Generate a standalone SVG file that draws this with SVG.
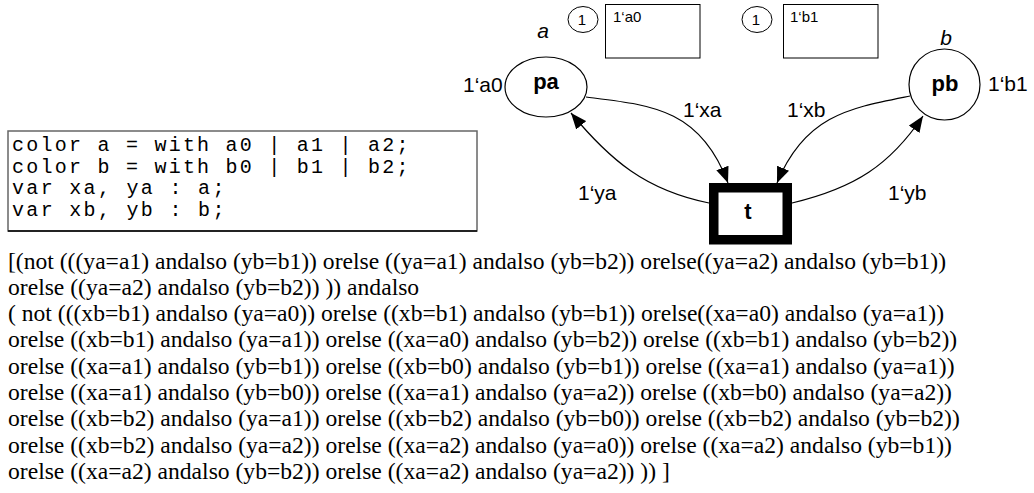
<svg xmlns="http://www.w3.org/2000/svg" width="1034" height="493" viewBox="0 0 1034 493">
  <style>
    .place { fill: #fff; stroke: #000; stroke-width: 1.2; }
    .trans { fill: #fff; stroke: #000; stroke-width: 9.5; }
    .arc { fill: none; stroke: #000; stroke-width: 1.2; }
    .lbl { font-family: "Liberation Sans", Arial, sans-serif; font-size: 21px; fill: #000; }
    .name { font-family: "Liberation Sans", Arial, sans-serif; font-size: 22px; font-weight: bold; fill: #000; text-anchor: middle; }
    .type { font-family: "Liberation Sans", Arial, sans-serif; font-size: 21px; font-style: italic; fill: #000; text-anchor: middle; }
    .mark { fill: #fff; stroke: #000; stroke-width: 1; }
    .small { font-family: "Liberation Sans", Arial, sans-serif; font-size: 15px; fill: #000; }
    .code { font-family: "Liberation Mono", "Courier New", monospace; font-size: 20px; fill: #000; }
    .guard { font-family: "Liberation Serif", "Times New Roman", serif; font-size: 23.6px; fill: #000; }
  </style>
  <defs>
    <marker id="head" markerUnits="userSpaceOnUse" markerWidth="16" markerHeight="13" viewBox="0 0 16 13" refX="16" refY="6.5" orient="auto">
      <path d="M0,0 L16,6.5 L0,13 z" fill="#000"/>
    </marker>
  </defs>

  <!-- colour set and variable declarations (monospace cells of 14.16px) -->
  <g id="declarations">
    <rect x="8" y="131" width="469" height="100" fill="#fff" stroke="#666" stroke-width="1.5"/>
    <line x1="8" y1="231" x2="477" y2="231" stroke="#000" stroke-width="1.5"/>
    <text class="code" x="12" y="151" textLength="396.5" lengthAdjust="spacing">color a = with a0 | a1 | a2;</text>
    <text class="code" x="12" y="172.5" textLength="396.5" lengthAdjust="spacing">color b = with b0 | b1 | b2;</text>
    <text class="code" x="12" y="194" textLength="212.4" lengthAdjust="spacing">var xa, ya : a;</text>
    <text class="code" x="12" y="215.5" textLength="212.4" lengthAdjust="spacing">var xb, yb : b;</text>
  </g>

  <!-- current markings -->
  <g id="marking-pa">
    <ellipse class="mark" cx="583" cy="19.5" rx="15" ry="13"/>
    <text class="small" x="582" y="25" text-anchor="middle">1</text>
    <rect class="mark" x="605.5" y="4.5" width="94.5" height="53.5"/>
    <text class="small" x="613" y="22">1‘a0</text>
  </g>
  <g id="marking-pb">
    <ellipse class="mark" cx="757" cy="19.5" rx="15" ry="13"/>
    <text class="small" x="756" y="25" text-anchor="middle">1</text>
    <rect class="mark" x="783.5" y="4.5" width="94.5" height="53.5"/>
    <text class="small" x="790" y="22">1‘b1</text>
  </g>

  <!-- arcs -->
  <g id="arcs">
    <path class="arc" d="M586,97 C650,105 700,108 728,183" marker-end="url(#head)"/>
    <path class="arc" d="M910,96 C850,108 805,115 777,183" marker-end="url(#head)"/>
    <path class="arc" d="M709,203 C645,190 610,160 571,113" marker-end="url(#head)"/>
    <path class="arc" d="M792,203 C855,188 890,165 923,116" marker-end="url(#head)"/>
    <text class="lbl" x="683" y="117">1‘xa</text>
    <text class="lbl" x="787" y="117">1‘xb</text>
    <text class="lbl" x="578" y="200">1‘ya</text>
    <text class="lbl" x="888" y="200">1‘yb</text>
  </g>

  <!-- places -->
  <g id="pa">
    <ellipse class="place" cx="546" cy="87" rx="41" ry="30"/>
    <text class="name" x="546" y="89">pa</text>
    <text class="type" x="543" y="38">a</text>
    <text class="lbl" x="463" y="92">1‘a0</text>
  </g>
  <g id="pb">
    <ellipse class="place" cx="944.5" cy="84.5" rx="35.5" ry="35.5"/>
    <text class="name" x="945" y="91">pb</text>
    <text class="type" x="946" y="45">b</text>
    <text class="lbl" x="988" y="91">1‘b1</text>
  </g>

  <!-- transition -->
  <g id="t">
    <rect class="trans" x="713.75" y="187.75" width="73.5" height="52"/>
    <text class="name" x="748" y="219">t</text>
  </g>

  <!-- guard -->
  <g id="guard">
    <text class="guard" x="8" y="268.5">[(not (((ya=a1) andalso (yb=b1)) orelse ((ya=a1) andalso (yb=b2)) orelse((ya=a2) andalso (yb=b1))</text>
    <text class="guard" x="8" y="294.8">orelse ((ya=a2) andalso (yb=b2)) )) andalso</text>
    <text class="guard" x="8" y="321.1">( not (((xb=b1) andalso (ya=a0)) orelse ((xb=b1) andalso (yb=b1)) orelse((xa=a0) andalso (ya=a1))</text>
    <text class="guard" x="8" y="347.4">orelse ((xb=b1) andalso (ya=a1)) orelse ((xa=a0) andalso (yb=b2)) orelse ((xb=b1) andalso (yb=b2))</text>
    <text class="guard" x="8" y="373.7">orelse ((xa=a1) andalso (yb=b1)) orelse ((xb=b0) andalso (yb=b1)) orelse ((xa=a1) andalso (ya=a1))</text>
    <text class="guard" x="8" y="400">orelse ((xa=a1) andalso (yb=b0)) orelse ((xa=a1) andalso (ya=a2)) orelse ((xb=b0) andalso (ya=a2))</text>
    <text class="guard" x="8" y="426.3">orelse ((xb=b2) andalso (ya=a1)) orelse ((xb=b2) andalso (yb=b0)) orelse ((xb=b2) andalso (yb=b2))</text>
    <text class="guard" x="8" y="452.6">orelse ((xb=b2) andalso (ya=a2)) orelse ((xa=a2) andalso (ya=a0)) orelse ((xa=a2) andalso (yb=b1))</text>
    <text class="guard" x="8" y="478.9">orelse ((xa=a2) andalso (yb=b2)) orelse ((xa=a2) andalso (ya=a2)) )) ]</text>
  </g>
</svg>
